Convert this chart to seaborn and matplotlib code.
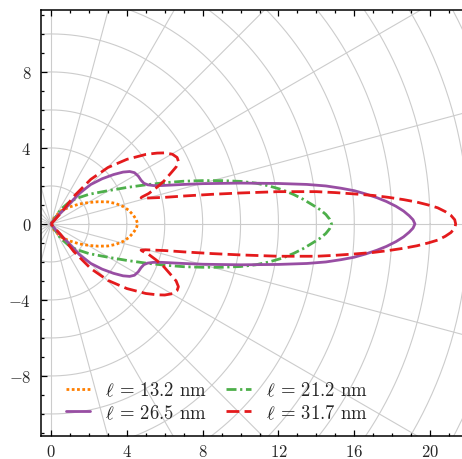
import numpy as np
import pandas as pd
import matplotlib
matplotlib.use("Agg")
import matplotlib.pyplot as plt
from matplotlib.ticker import MultipleLocator
import seaborn as sns

# Upper half of each emission pattern (x, y), from the origin to the tip on
# the x axis; the lower half is the mirror image.
x_132 = [0, 0.15, 0.5, 1.0, 1.5, 2.0, 2.5, 3.0, 3.4, 3.8, 4.1, 4.35, 4.5, 4.57]
y_132 = [0, 0.30, 0.68, 0.90, 1.05, 1.13, 1.17, 1.16, 1.08, 0.92, 0.72, 0.45, 0.22, 0]

x_212 = [0, 0.2, 0.5, 0.9, 1.3, 2.0, 3.0, 4.0, 5.0, 6.0, 7.0, 8.0, 9.0, 10.0,
         10.8, 11.5, 12.2, 12.8, 13.3, 13.8, 14.2, 14.5, 14.7, 14.8]
y_212 = [0, 0.30, 0.75, 1.10, 1.33, 1.56, 1.75, 1.92, 2.06, 2.17, 2.25, 2.28, 2.28, 2.24,
         2.15, 2.00, 1.80, 1.55, 1.30, 1.00, 0.75, 0.50, 0.25, 0]

x_265 = [0, 0.3, 0.9, 1.5, 2.1, 2.7, 3.3, 3.8, 4.15, 4.4, 4.6, 4.75, 4.9, 5.1, 5.4, 5.8,
         7.0, 8.0, 10.0, 12.0, 13.5, 14.5, 15.3, 16.0, 16.6, 17.2, 17.7, 18.2, 18.6,
         18.9, 19.1, 19.2]
y_265 = [0, 0.38, 0.98, 1.62, 2.08, 2.38, 2.60, 2.73, 2.76, 2.70, 2.52, 2.30, 2.14, 2.06,
         2.02, 2.02, 2.08, 2.12, 2.15, 2.13, 2.08, 2.00, 1.88, 1.75, 1.58, 1.38, 1.18,
         0.93, 0.68, 0.43, 0.22, 0]

x_317 = [0, 0.5, 1.2, 2.1, 3.0, 4.0, 5.0, 5.6, 6.0, 6.4, 6.65, 6.72, 6.6, 6.3, 5.95,
         5.55, 5.15, 4.8, 4.75, 5.0, 6.0, 7.0, 8.5, 10.0, 12.0, 14.0, 15.0, 16.0, 17.0,
         17.8, 18.6, 19.3, 19.9, 20.4, 20.8, 21.1, 21.3, 21.35]
y_317 = [0, 0.55, 1.45, 2.35, 2.97, 3.40, 3.66, 3.73, 3.74, 3.67, 3.50, 3.30, 3.00, 2.65,
         2.25, 1.90, 1.60, 1.42, 1.38, 1.36, 1.40, 1.47, 1.56, 1.63, 1.70, 1.70, 1.65,
         1.58, 1.50, 1.40, 1.28, 1.15, 1.00, 0.85, 0.65, 0.45, 0.22, 0]

lengths = ["13.2", "21.2", "26.5", "31.7"]
upper_x = [x_132, x_212, x_265, x_317]
upper_y = [y_132, y_212, y_265, y_317]
colors = ["#ff7f00", "#4daf4a", "#984ea3", "#e41a1c"]
styles = [(0, (1, 0.9)), (0, (3.6, 1.3, 0.8, 1.3)), "-", (0, (4.6, 1.9))]

sns.set_theme(style="ticks")
plt.rcParams.update({
    "font.family": "serif",
    "font.serif": ["cmr10"],
    "mathtext.fontset": "cm",
    "axes.formatter.use_mathtext": True,
    "axes.unicode_minus": True,
})

fig = plt.figure(figsize=(4.62, 4.60), dpi=100)
ax = fig.add_axes([41 / 462, 23 / 460, (468 - 41) / 462, (437 - 11) / 460])

# polar grid: circles every 2 units, spokes every 15 degrees
grid_kw = dict(color="#cccccc", lw=0.8, zorder=0)
phi = np.linspace(0, 2 * np.pi, 721)
for r in range(2, 27, 2):
    ax.plot(r * np.cos(phi), r * np.sin(phi), **grid_kw)
for ang in range(0, 360, 15):
    a = np.deg2rad(ang)
    ax.plot([0, 30 * np.cos(a)], [0, 30 * np.sin(a)], **grid_kw)

handles = {}
for lab, xs, ys, c, ls in zip(lengths, upper_x, upper_y, colors, styles):
    xs = np.asarray(xs, float)
    ys = np.asarray(ys, float)
    df = pd.DataFrame({
        "x": np.concatenate([xs, xs[::-1]]),
        "y": np.concatenate([ys, -ys[::-1]]),
    })
    sns.lineplot(data=df, x="x", y="y", sort=False, estimator=None, ax=ax,
                 color=c, linestyle=ls, linewidth=2.0, zorder=3)
    handles[lab] = ax.lines[-1]

order = ["13.2", "26.5", "21.2", "31.7"]
ax.legend([handles[k] for k in order],
          [r"$\ell$ = " + k + " nm" for k in order],
          ncol=2, loc="lower left", frameon=False, fontsize=13.5,
          bbox_to_anchor=(0.0585, 0.033), handlelength=1.3, columnspacing=1.0,
          handletextpad=0.8, labelspacing=0.2, borderaxespad=0.0,
          borderpad=0.0)

ax.set_xlim(-0.53, 22.0)
ax.set_ylim(-11.16, 11.26)
ax.xaxis.set_major_locator(MultipleLocator(4))
ax.xaxis.set_minor_locator(MultipleLocator(1))
ax.yaxis.set_major_locator(MultipleLocator(4))
ax.yaxis.set_minor_locator(MultipleLocator(1))
ax.tick_params(which="both", direction="in", top=True, right=True,
               color="black", width=0.9, labelsize=12)
ax.tick_params(axis="y", pad=7)
ax.tick_params(axis="x", pad=5)
ax.tick_params(which="major", length=4.5)
ax.tick_params(which="minor", length=2.3)
for s in ax.spines.values():
    s.set_linewidth(1.1)
    s.set_color("black")
ax.set_xlabel("")
ax.set_ylabel("")

fig.savefig("out.png", dpi=100)
